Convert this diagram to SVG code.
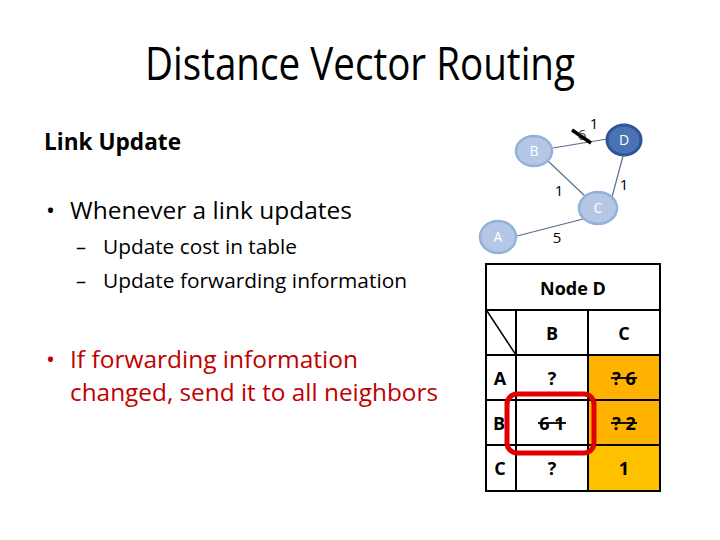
<svg xmlns="http://www.w3.org/2000/svg" width="720" height="540" viewBox="0 0 720 540">
<style>
.t{font-family:"Open Sans","Liberation Sans",sans-serif;fill:#000}
.b{font-weight:bold}
.nl{fill:#b4c7e7;stroke:#95b0d9;stroke-width:2.5}
.nd{fill:#4a73b4;stroke:#2f5597;stroke-width:3}
.nt{font-family:"Open Sans","Liberation Sans",sans-serif;font-size:14px;fill:#fff;text-anchor:middle}
.e{stroke:#5b6e8c;stroke-width:1.2;fill:none}
.el{font-family:"Open Sans","Liberation Sans",sans-serif;font-size:15px;fill:#000;text-anchor:middle}
.g{stroke:#000;stroke-width:2;fill:none}
.ct{font-family:"Open Sans","Liberation Sans",sans-serif;font-weight:bold;font-size:18px;text-anchor:middle;fill:#000}
.s{stroke:#000;stroke-width:1.8}
.r{fill:#c00000}
</style>
<rect width="720" height="540" fill="#fff"/>
<text class="t" x="360" y="80" font-size="46" text-anchor="middle" textLength="430" lengthAdjust="spacingAndGlyphs">Distance Vector Routing</text>
<text class="t b" x="44" y="150" font-size="22.5" textLength="137" lengthAdjust="spacingAndGlyphs">Link Update</text>
<text class="t" x="46" y="219" font-size="24">•</text>
<text class="t" x="70" y="219" font-size="24" textLength="282" lengthAdjust="spacingAndGlyphs">Whenever a link updates</text>
<text class="t" x="76" y="254" font-size="20">–</text>
<text class="t" x="103" y="254" font-size="20" textLength="194" lengthAdjust="spacingAndGlyphs">Update cost in table</text>
<text class="t" x="76" y="288" font-size="20">–</text>
<text class="t" x="103" y="288" font-size="20" textLength="304" lengthAdjust="spacingAndGlyphs">Update forwarding information</text>
<text class="t r" x="46" y="368" font-size="24" style="fill:#c00000">•</text>
<text class="t r" x="70" y="368" font-size="24" style="fill:#c00000" textLength="288" lengthAdjust="spacingAndGlyphs">If forwarding information</text>
<text class="t r" x="70" y="401" font-size="24" style="fill:#c00000" textLength="368" lengthAdjust="spacingAndGlyphs">changed, send it to all neighbors</text>
<g id="connectors">
<line class="e" x1="553" y1="148" x2="607" y2="139"/>
<line class="e" x1="548" y1="161" x2="586" y2="197"/>
<line class="e" x1="623" y1="156" x2="612" y2="197"/>
<line class="e" x1="517" y1="236" x2="587" y2="218"/>
<text class="el" x="582" y="140" style="fill:#444">6</text>
<line x1="572" y1="130" x2="591" y2="143" stroke="#000" stroke-width="3.5"/>
<text class="el" x="594" y="129">1</text>
<text class="el" x="559" y="196">1</text>
<text class="el" x="624" y="190">1</text>
<text class="el" x="557" y="243">5</text>
</g>
<g id="node-B"><ellipse class="nl" cx="534" cy="151" rx="18" ry="15"/><text class="nt" x="534" y="156">B</text></g>
<g id="node-D"><ellipse class="nd" cx="624" cy="140" rx="17" ry="15"/><text class="nt" x="624" y="145">D</text></g>
<g id="node-C"><ellipse class="nl" cx="598" cy="208" rx="19" ry="16"/><text class="nt" x="598" y="213">C</text></g>
<g id="node-A"><ellipse class="nl" cx="498" cy="237" rx="18" ry="16"/><text class="nt" x="498" y="242">A</text></g>
<g id="table">
<rect x="588" y="355" width="72" height="45" fill="#ffb300"/>
<rect x="588" y="400" width="72" height="45" fill="#ffb300"/>
<rect x="588" y="445" width="72" height="46" fill="#ffc000"/>
<rect class="g" x="486" y="264" width="174" height="227"/>
<line class="g" x1="486" y1="310" x2="660" y2="310"/>
<line class="g" x1="486" y1="355" x2="660" y2="355"/>
<line class="g" x1="486" y1="400" x2="660" y2="400"/>
<line class="g" x1="486" y1="445" x2="660" y2="445"/>
<line class="g" x1="516" y1="310" x2="516" y2="491"/>
<line class="g" x1="588" y1="310" x2="588" y2="491"/>
<line x1="487" y1="311" x2="516" y2="355" stroke="#000" stroke-width="1.5"/>
<text class="ct" x="573" y="295" font-size="20">Node D</text>
<text class="ct" x="552" y="340">B</text>
<text class="ct" x="624" y="340">C</text>
<text class="ct" x="500" y="385">A</text>
<text class="ct" x="552" y="385">?</text>
<text class="ct" x="624" y="385">? 6</text>
<line class="s" x1="611" y1="378" x2="637" y2="378"/>
<text class="ct" x="499" y="430">B</text>
<text class="ct" x="552" y="430">6 1</text>
<line class="s" x1="538" y1="423" x2="566" y2="423"/>
<text class="ct" x="624" y="430">? 2</text>
<line class="s" x1="611" y1="423" x2="637" y2="423"/>
<text class="ct" x="500" y="475">C</text>
<text class="ct" x="552" y="475">?</text>
<text class="ct" x="624" y="475">1</text>
</g>
<rect x="507" y="394" width="87" height="59" rx="10" fill="none" stroke="#e00000" stroke-width="5"/>
</svg>
